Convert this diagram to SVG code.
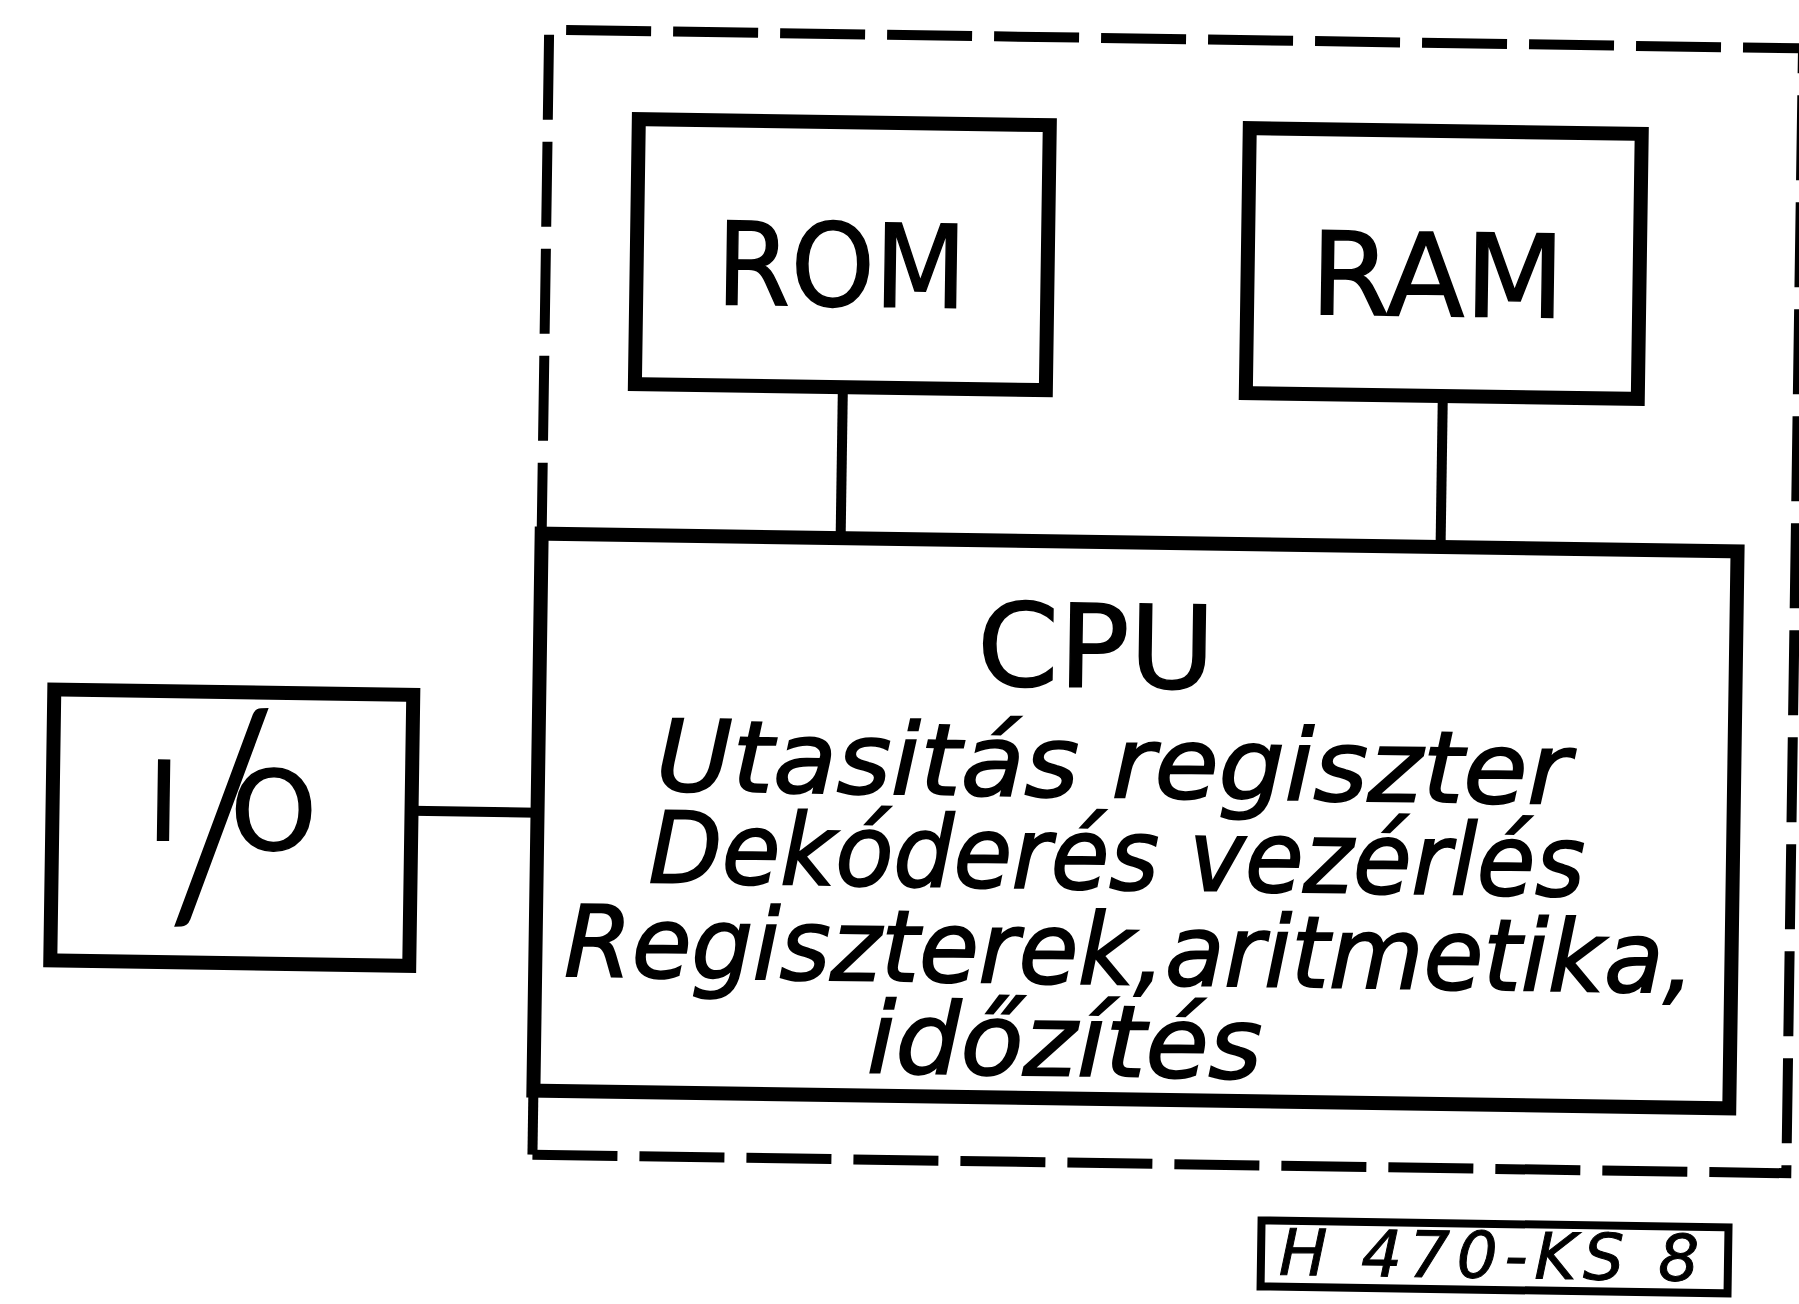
<svg xmlns="http://www.w3.org/2000/svg" width="1799" height="1304" viewBox="0 0 1799 1304">
<style>
.box{fill:none;stroke:#000;stroke-width:14}
.thin{fill:none;stroke:#000;stroke-width:8}
.wire{fill:none;stroke:#000;stroke-width:10}
.dash{fill:none;stroke:#000;stroke-width:10;stroke-dasharray:85 22}
.big{font-family:"DejaVu Sans","Liberation Sans",sans-serif;font-size:115px;fill:#000;stroke:#000;stroke-width:1.5;text-anchor:middle}
.it{font-family:"DejaVu Sans","Liberation Sans",sans-serif;font-style:oblique;font-size:99px;fill:#000;stroke:#000;stroke-width:1.8}
.lbl{font-family:"DejaVu Sans","Liberation Sans",sans-serif;font-style:oblique;font-size:64px;fill:#000;stroke:#000;stroke-width:1}
.sl{font-family:Lato,"DejaVu Sans",sans-serif;font-weight:300;font-size:276px;stroke:#000;stroke-width:2.5}
</style>
<rect width="1799" height="1304" fill="#fff"/>
<g transform="rotate(0.85 1100 650)">
  <g id="boundary">
    <path class="dash" d="M540,1163 H1794 V38 H540 V542"/>
    <path class="wire" d="M540,1099 V1163"/>
  </g>
  <g id="connectors">
    <path class="wire" d="M839,391 V542"/>
    <path class="wire" d="M1439,391 V542"/>
    <path class="wire" d="M414,821 H540"/>
  </g>
  <g id="rom">
    <rect class="box" x="631" y="126" width="411" height="265"/>
    <text class="big" x="836" y="310" textLength="250" lengthAdjust="spacingAndGlyphs">ROM</text>
  </g>
  <g id="ram">
    <rect class="box" x="1242" y="126" width="392" height="265"/>
    <text class="big" x="1432" y="311" textLength="254" lengthAdjust="spacingAndGlyphs">RAM</text>
  </g>
  <g id="cpu">
    <rect class="box" x="540" y="542" width="1196" height="557"/>
    <text class="big" x="1096" y="687" textLength="238" lengthAdjust="spacingAndGlyphs">CPU</text>
    <text class="it"><tspan x="658" y="797" textLength="914" lengthAdjust="spacingAndGlyphs">Utasitás regiszter</tspan><tspan x="652" y="889" textLength="936" lengthAdjust="spacingAndGlyphs">Dekóderés vezérlés</tspan><tspan x="569" y="984" textLength="1130" lengthAdjust="spacingAndGlyphs">Regiszterek,aritmetika,</tspan><tspan x="873" y="1076" textLength="395" lengthAdjust="spacingAndGlyphs">időzítés</tspan></text>
  </g>
  <g id="io">
    <rect class="box" x="55" y="705" width="359" height="271"/>
    <text class="big" style="font-size:110px"><tspan x="166" y="854">I</tspan><tspan class="sl" x="229" y="928" rotate="-3">/</tspan><tspan x="276" y="862">O</tspan></text>
  </g>
  <g id="label">
    <rect class="thin" x="1270" y="1218" width="467" height="66"/>
    <text class="lbl" x="1288" y="1272" textLength="420" lengthAdjust="spacing">H 470-KS 8</text>
  </g>
</g>
</svg>
